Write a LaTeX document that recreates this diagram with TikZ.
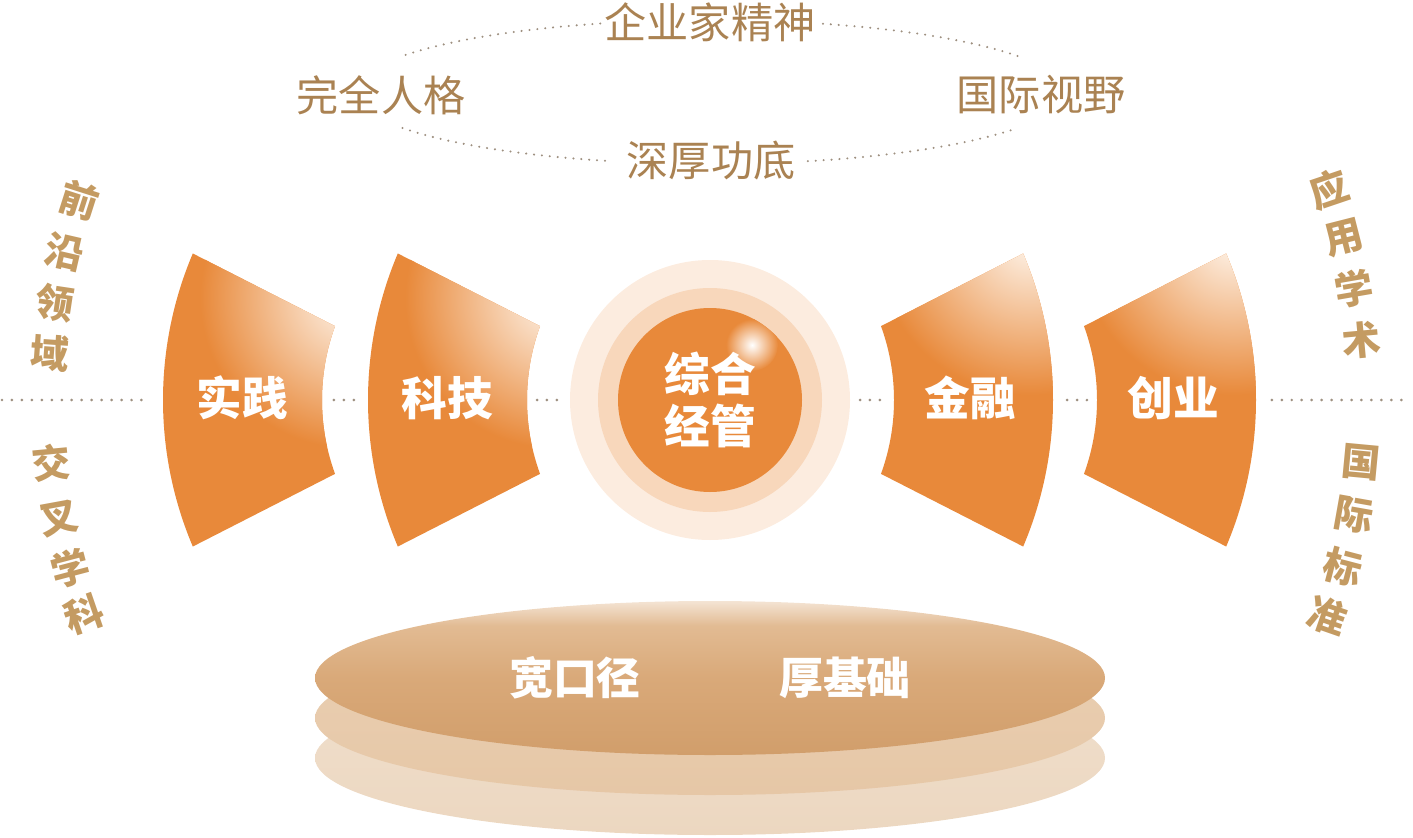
\documentclass[tikz,border=0pt]{standalone}
\usepackage{fontspec}
\usepackage{tikz}
\usetikzlibrary{calc}
\newfontfamily\cjk{Noto Sans CJK SC}
\definecolor{segorange}{HTML}{E8893A}
\definecolor{seglight}{HTML}{FEF5EC}
\definecolor{ringpale}{HTML}{FCECDF}
\definecolor{ringmid}{HTML}{F8D7BB}
\definecolor{topbrown}{HTML}{AA8252}
\definecolor{sidegold}{HTML}{C49B62}
\definecolor{dotgray}{HTML}{9E9080}
\definecolor{platetop}{HTML}{F4E4D4}
\definecolor{plateup}{HTML}{E2BB93}
\definecolor{platemid}{HTML}{D9A979}
\definecolor{platebot}{HTML}{D19E6B}
\definecolor{platetwo}{HTML}{E6C7A6}
\definecolor{platethree}{HTML}{ECD7C0}
\pgfdeclareverticalshading{platefade}{100bp}{color(0bp)=(platebot); color(25bp)=(platebot);
  color(50bp)=(platemid); color(67bp)=(plateup); color(75bp)=(platetop); color(100bp)=(platetop)}
\tikzset{
  dotline/.style={draw=dotgray, line width=1.7pt, line cap=round, dash pattern=on 0pt off 5.67pt},
  ringdots/.style={draw=dotgray, line width=1.3pt, line cap=round, dash pattern=on 0pt off 4.5pt},
  seglab/.style={text=white, font=\cjk\bfseries\fontsize{26}{30}\selectfont},
  corelab/.style={text=white, align=center, font=\cjk\bfseries\fontsize{26}{30}\selectfont},
  platelab/.style={text=white, font=\cjk\bfseries\fontsize{25}{30}\selectfont},
  toplab/.style={text=topbrown, font=\cjk\fontsize{24}{28}\selectfont},
  sidelab/.style={text=sidegold, font=\cjk\bfseries\fontsize{22}{28}\selectfont},
}

\begin{document}
\begin{tikzpicture}[x=0.02cm, y=0.02cm]
\useasboundingbox (0,0) rectangle (1413,-838);

% base plates
\shade[top color=platethree!80, bottom color=platethree] (710,-758) ellipse (395 and 77);
\shade[top color=platetwo!85, bottom color=platetwo] (710,-718) ellipse (395 and 77);
\shade[shading=platefade] (710,-678) ellipse (395 and 77);
\node[platelab] (kkj) at (575,-678) {宽口径};
\node[platelab] (hjc) at (845,-678) {厚基础};

% core
\coordinate (core) at (710,-400);
\coordinate (core-w) at (570,-400);
\coordinate (core-e) at (850,-400);
\fill[ringpale] (core) circle (140);
\fill[ringmid] (core) circle (112);
\fill[segorange] (core) circle (92);
\begin{scope}
  \clip (core) circle (92);
  \shade[inner color=white, outer color=segorange] (752,-345) circle (26);
\end{scope}
\node[corelab] (zhjg) at (core) {综合\\经管};

% left segments
\foreach \cx/\nm/\txt in {538/sj/实践, 743/kj/科技}{
  \begin{scope}
    \clip (\cx,-400) ++(157:375) arc[start angle=157, end angle=203, radius=375]
      -- ($(\cx,-400)+(200:216)$) arc[start angle=200, end angle=160, radius=216] -- cycle;
    \fill[segorange] (\cx-380,-240) rectangle (\cx-190,-560);
    \shade[inner color=seglight, outer color=segorange] (\cx-188,-298) circle (150);
  \end{scope}
  \coordinate (\nm-out) at (\cx-375,-400);
  \coordinate (\nm-in) at (\cx-216,-400);
  \node[seglab] (\nm) at (\cx-296,-398) {\txt};
}

% right segments
\foreach \cx/\nm/\txt in {678/jr/金融, 881/cy/创业}{
  \begin{scope}
    \clip (\cx,-400) ++(-23:375) arc[start angle=-23, end angle=23, radius=375]
      -- ($(\cx,-400)+(20:216)$) arc[start angle=20, end angle=-20, radius=216] -- cycle;
    \fill[segorange] (\cx+190,-240) rectangle (\cx+380,-560);
    \shade[inner color=seglight, outer color=segorange] (\cx+352,-240) circle (155);
  \end{scope}
  \coordinate (\nm-out) at (\cx+375,-400);
  \coordinate (\nm-in) at (\cx+216,-400);
  \node[seglab] (\nm) at (\cx+292,-398) {\txt};
}

% dotted axis
\coordinate (lend) at (2,-400);
\coordinate (rend) at (1411,-400);
\draw[dotline, shorten >=11.3pt] (lend) -- (sj-out);
\draw[dotline, shorten <=6.8pt, shorten >=6.8pt] (sj-in) -- (kj-out);
\draw[dotline, shorten <=5.7pt, shorten >=5.7pt] (kj-in) -- (core-w);
\draw[dotline, shorten <=5.7pt, shorten >=5.7pt] (core-e) -- (jr-in);
\draw[dotline, shorten <=8pt, shorten >=3.4pt] (jr-out) -- (cy-in);
\draw[dotline, shorten <=9pt] (cy-out) -- (rend);

% top ring
\coordinate (ring) at (710,-92);
\node[toplab] (qyj) at (710,-22) {企业家精神};
\node[toplab] (wqrg) at (381,-95) {完全人格};
\node[toplab] (gjsy) at (1041,-95) {国际视野};
\node[toplab] (shgd) at (711,-160) {深厚功底};
\draw[ringdots] (ring) ++(30:355 and 72) arc[start angle=30, end angle=72, x radius=355, y radius=72];
\draw[ringdots] (ring) ++(108:355 and 72) arc[start angle=108, end angle=151, x radius=355, y radius=72];
\draw[ringdots] (ring) ++(210:355 and 72) arc[start angle=210, end angle=254, x radius=355, y radius=72];
\draw[ringdots] (ring) ++(286:355 and 72) arc[start angle=286, end angle=330, x radius=355, y radius=72];

% side words
\coordinate (side) at (706,-400);
\foreach \ch/\ang [count=\i] in {前/162.3, 沿/167, 领/171.5, 域/175.9, 交/185.5, 叉/190.4, 学/194.8, 科/199}
  \node[sidelab, rotate=\ang-180] (lt\i) at ($(side)+(\ang:658)$) {\ch};
\foreach \ch/\ang [count=\i] in {应/18.7, 用/14.3, 学/9.8, 术/5.2, 国/-5.4, 际/-10.1, 标/-14.7, 准/-19.2}
  \node[sidelab, rotate=\ang] (rt\i) at ($(side)+(\ang:658)$) {\ch};
\end{tikzpicture}
\end{document}
